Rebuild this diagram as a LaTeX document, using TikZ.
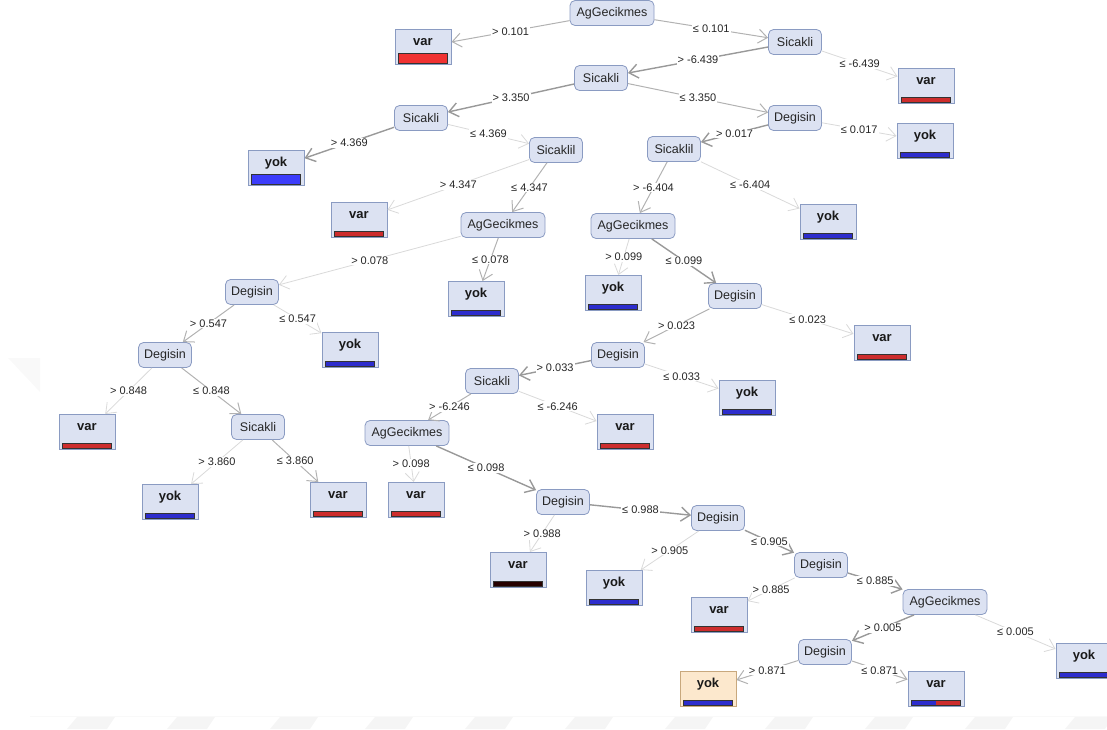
\documentclass[tikz,border=0pt]{standalone}
\usepackage{fontspec}
\setmainfont{Liberation Sans}
\usetikzlibrary{arrows.meta}
\definecolor{nodefill}{RGB}{220,226,242}
\definecolor{nodeline}{RGB}{138,155,194}
\definecolor{orfill}{RGB}{252,232,205}
\definecolor{orline}{RGB}{200,168,125}
\definecolor{barred}{RGB}{205,45,45}
\definecolor{barblue}{RGB}{45,45,205}
\definecolor{bigred}{RGB}{240,50,50}
\definecolor{bigblue}{RGB}{60,60,250}
\tikzstyle{decision} = [rectangle, rounded corners=5pt, minimum width=53pt, minimum height=25pt, inner sep=2pt, text centered, draw=nodeline, line width=0.8pt, fill=nodefill, text=black!85, font=\fontsize{12.5}{14}\selectfont]
\tikzstyle{leaf} = [rectangle, minimum width=56pt, minimum height=35pt, inner sep=0pt, text height=8pt, text depth=11pt, draw=nodeline, line width=1pt, fill=nodefill, text=black!90, font=\fontsize{13}{14}\selectfont\bfseries]
\tikzstyle{cond} = [fill=white, inner sep=1pt, text=black!85, font=\fontsize{11}{12}\selectfont]
\tikzstyle{arrowdark} = [draw=gray!80, line width=1.4pt, -{Straight Barb[length=9pt,width=14pt]}]
\tikzstyle{arrowmid} = [draw=gray!60, line width=1pt, -{Straight Barb[length=9pt,width=14pt]}]
\tikzstyle{arrowlight} = [draw=gray!30, line width=0.8pt, -{Straight Barb[length=9pt,width=14pt]}]
% colour bar at the bottom of a leaf: [thickness] node colour
\newcommand{\leafbar}[3][4.5]{\filldraw[draw=black!80, fill=#3, line width=0.6pt] ([xshift=4pt,yshift=2pt]#2.south west) rectangle ([xshift=-4pt,yshift={2pt+#1pt}]#2.south east);}
\begin{document}
\begin{tikzpicture}[x=1pt, y=-1pt]
\useasboundingbox (0,0) rectangle (1107,729);

% faint watermark
\fill[gray!5] (8,358) -- (40,358) -- (40,392) -- cycle;
\draw[gray!5] (30,716) -- (1107,716);
\foreach \wx in {67,167,270,365,465,565,665,765,865,965,1065}
  \fill[gray!8] (\wx,729) -- (\wx+10,717) -- (\wx+48,717) -- (\wx+40,729) -- cycle;

% decision nodes
\node (ag1) [decision, minimum width=84pt] at (612,13) {AgGecikmes};
\node (s1) [decision] at (795,42) {Sicakli};
\node (s2) [decision] at (601,78) {Sicakli};
\node (s3) [decision] at (421,118) {Sicakli};
\node (d1) [decision] at (795,118) {Degisin};
\node (s4) [decision] at (556,150) {Sicaklil};
\node (s5) [decision] at (674,149) {Sicaklil};
\node (ag2) [decision, minimum width=84pt] at (503,225) {AgGecikmes};
\node (ag3) [decision, minimum width=84pt] at (633,226) {AgGecikmes};
\node (d2) [decision] at (252,292) {Degisin};
\node (d3) [decision] at (735,296) {Degisin};
\node (d4) [decision] at (165,355) {Degisin};
\node (d5) [decision] at (618,355) {Degisin};
\node (s6) [decision] at (492,381) {Sicakli};
\node (s7) [decision] at (258,427) {Sicakli};
\node (ag4) [decision, minimum width=84pt] at (407,433) {AgGecikmes};
\node (d6) [decision] at (563,502) {Degisin};
\node (d7) [decision] at (718,518) {Degisin};
\node (d8) [decision] at (821,565) {Degisin};
\node (ag5) [decision, minimum width=84pt] at (945,602) {AgGecikmes};
\node (d9) [decision] at (825,652) {Degisin};

% leaves
\node (var1) [leaf] at (423,47) {var};
\node (var2) [leaf] at (926,86) {var};
\node (yok1) [leaf] at (925,141) {yok};
\node (yok2) [leaf] at (276,168) {yok};
\node (var3) [leaf] at (359,220) {var};
\node (yok3) [leaf] at (828,222) {yok};
\node (yok4) [leaf] at (476,299) {yok};
\node (yok5) [leaf] at (613,293) {yok};
\node (yok6) [leaf] at (350,350) {yok};
\node (var4) [leaf] at (882,343) {var};
\node (yok7) [leaf] at (747,398) {yok};
\node (var5) [leaf] at (87,432) {var};
\node (var6) [leaf] at (625,432) {var};
\node (yok8) [leaf] at (170,502) {yok};
\node (var7) [leaf] at (338,500) {var};
\node (var8) [leaf] at (416,500) {var};
\node (var9) [leaf] at (518,570) {var};
\node (yok9) [leaf] at (614,588) {yok};
\node (var10) [leaf] at (719,615) {var};
\node (yok10) [leaf] at (1084,661) {yok};
\node (yok11) [leaf, fill=orfill, draw=orline] at (708,689) {yok};
\node (var11) [leaf] at (936,689) {var};

\leafbar[10]{var1}{bigred}
\leafbar{var2}{barred}
\leafbar{yok1}{barblue}
\leafbar[10]{yok2}{bigblue}
\leafbar{var3}{barred}
\leafbar{yok3}{barblue}
\leafbar{yok4}{barblue}
\leafbar{yok5}{barblue}
\leafbar{yok6}{barblue}
\leafbar{var4}{barred}
\leafbar{yok7}{barblue}
\leafbar{var5}{barred}
\leafbar{var6}{barred}
\leafbar{yok8}{barblue}
\leafbar{var7}{barred}
\leafbar{var8}{barred}
\leafbar{var9}{black!85!red}
\leafbar{yok9}{barblue}
\leafbar{var10}{barred}
\leafbar{yok10}{barblue}
\leafbar{yok11}{barblue}
\fill[barblue] ([xshift=4pt,yshift=2pt]var11.south west) rectangle ([yshift=6.5pt]var11.south);
\fill[barred] ([yshift=2pt]var11.south) rectangle ([xshift=-4pt,yshift=6.5pt]var11.south east);
\draw[black!80, line width=0.6pt] ([xshift=4pt,yshift=2pt]var11.south west) rectangle ([xshift=-4pt,yshift=6.5pt]var11.south east);

% branches
\draw [arrowmid] (ag1) -- node[cond] {> 0.101} (var1);
\draw [arrowmid] (ag1) -- node[cond] {≤ 0.101} (s1);
\draw [arrowdark] (s1) -- node[cond] {> -6.439} (s2);
\draw [arrowlight] (s1) -- node[cond] {≤ -6.439} (var2);
\draw [arrowdark] (s2) -- node[cond] {> 3.350} (s3);
\draw [arrowmid] (s2) -- node[cond] {≤ 3.350} (d1);
\draw [arrowdark] (s3) -- node[cond] {> 4.369} (yok2);
\draw [arrowlight] (s3) -- node[cond] {≤ 4.369} (s4);
\draw [arrowlight] (s4) -- node[cond] {> 4.347} (var3);
\draw [arrowmid] (s4) -- node[cond] {≤ 4.347} (ag2);
\draw [arrowdark] (d1) -- node[cond] {> 0.017} (s5);
\draw [arrowlight] (d1) -- node[cond] {≤ 0.017} (yok1);
\draw [arrowmid] (s5) -- node[cond] {> -6.404} (ag3);
\draw [arrowlight] (s5) -- node[cond] {≤ -6.404} (yok3);
\draw [arrowlight] (ag2) -- node[cond] {> 0.078} (d2);
\draw [arrowmid] (ag2) -- node[cond] {≤ 0.078} (yok4);
\draw [arrowlight] (ag3) -- node[cond] {> 0.099} (yok5);
\draw [arrowdark] (ag3) -- node[cond] {≤ 0.099} (d3);
\draw [arrowmid] (d2) -- node[cond] {> 0.547} (d4);
\draw [arrowlight] (d2) -- node[cond] {≤ 0.547} (yok6);
\draw [arrowmid] (d3) -- node[cond] {> 0.023} (d5);
\draw [arrowlight] (d3) -- node[cond] {≤ 0.023} (var4);
\draw [arrowlight] (d4) -- node[cond] {> 0.848} (var5);
\draw [arrowmid] (d4) -- node[cond] {≤ 0.848} (s7);
\draw [arrowdark] (d5) -- node[cond] {> 0.033} (s6);
\draw [arrowlight] (d5) -- node[cond] {≤ 0.033} (yok7);
\draw [arrowmid] (s6) -- node[cond] {> -6.246} (ag4);
\draw [arrowlight] (s6) -- node[cond] {≤ -6.246} (var6);
\draw [arrowlight] (s7) -- node[cond] {> 3.860} (yok8);
\draw [arrowmid] (s7) -- node[cond] {≤ 3.860} (var7);
\draw [arrowlight] (ag4) -- node[cond] {> 0.098} (var8);
\draw [arrowdark] (ag4) -- node[cond] {≤ 0.098} (d6);
\draw [arrowlight] (d6) -- node[cond] {> 0.988} (var9);
\draw [arrowdark] (d6) -- node[cond] {≤ 0.988} (d7);
\draw [arrowlight] (d7) -- node[cond] {> 0.905} (yok9);
\draw [arrowdark] (d7) -- node[cond] {≤ 0.905} (d8);
\draw [arrowlight] (d8) -- node[cond] {> 0.885} (var10);
\draw [arrowdark] (d8) -- node[cond] {≤ 0.885} (ag5);
\draw [arrowdark] (ag5) -- node[cond] {> 0.005} (d9);
\draw [arrowlight] (ag5) -- node[cond] {≤ 0.005} (yok10);
\draw [arrowmid] (d9) -- node[cond] {> 0.871} (yok11);
\draw [arrowmid] (d9) -- node[cond] {≤ 0.871} (var11);

\end{tikzpicture}
\end{document}
